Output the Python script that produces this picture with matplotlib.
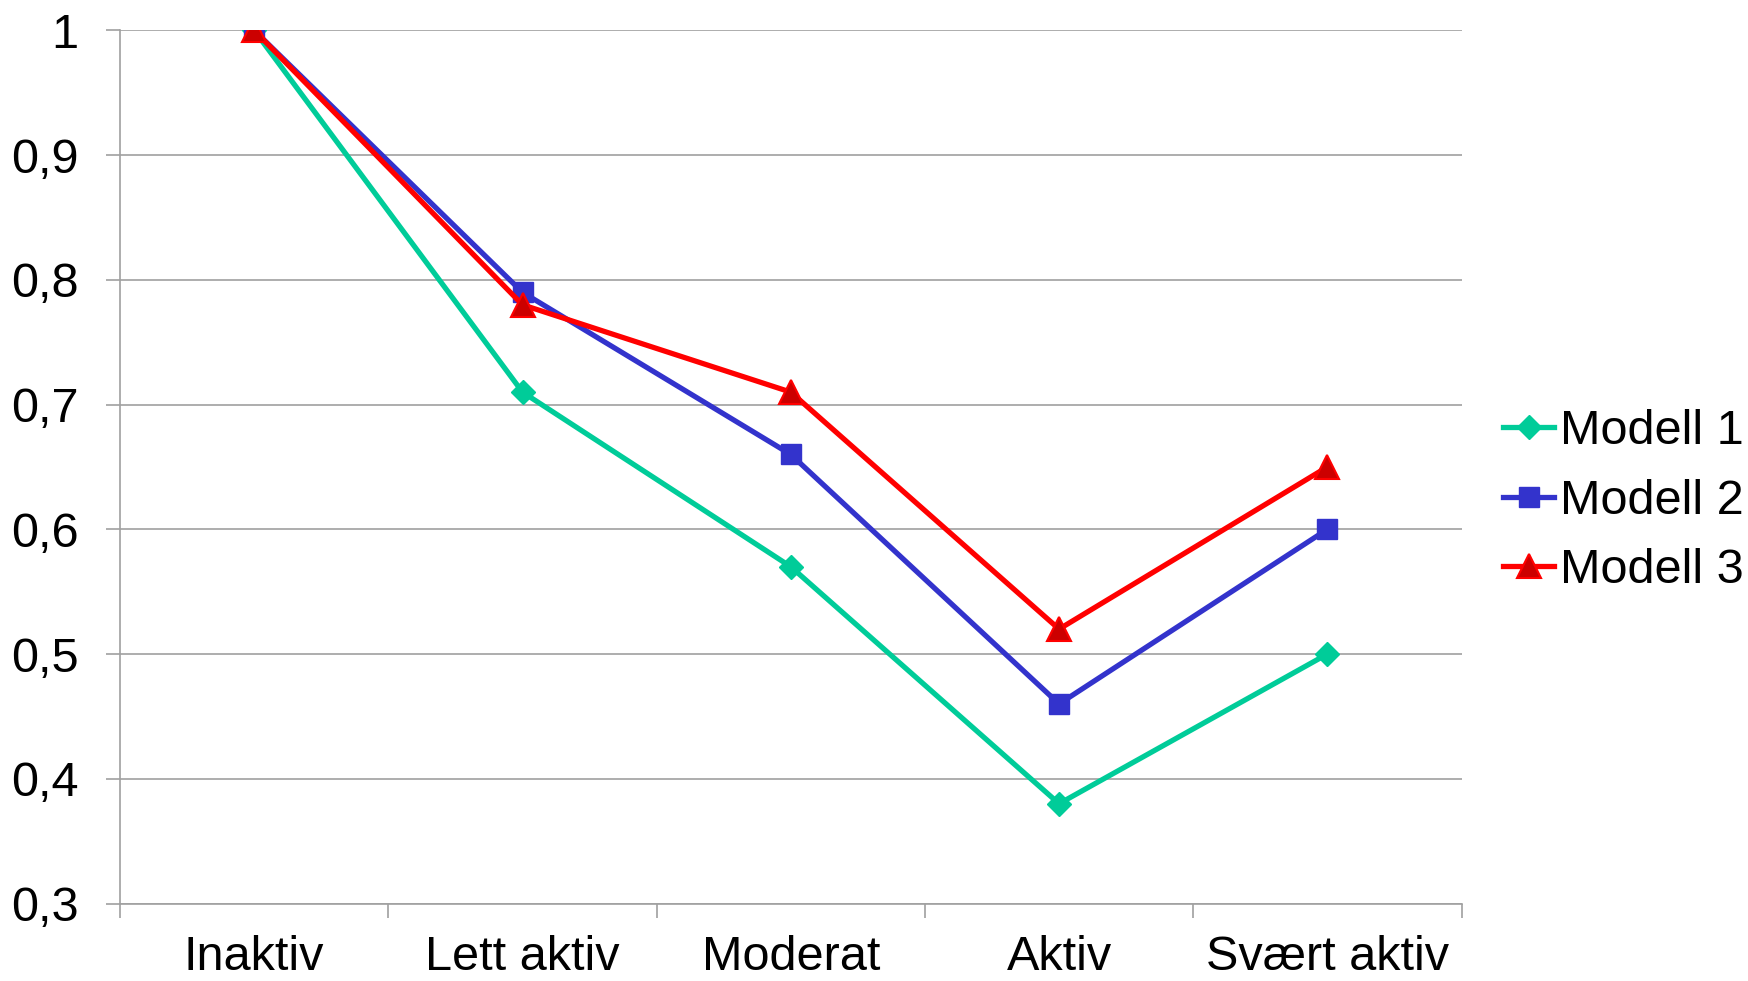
import matplotlib
matplotlib.use("Agg")
import matplotlib.pyplot as plt

plt.rcParams['font.family'] = ['Liberation Sans', 'DejaVu Sans']

categories = ["Inaktiv", "Lett aktiv", "Moderat", "Aktiv", "Svært aktiv"]
modell_1 = [1.00, 0.71, 0.57, 0.38, 0.50]
modell_2 = [1.00, 0.79, 0.66, 0.46, 0.60]
modell_3 = [1.00, 0.78, 0.71, 0.52, 0.65]
y_ticks = [0.3, 0.4, 0.5, 0.6, 0.7, 0.8, 0.9, 1.0]
y_labels = ["0,3", "0,4", "0,5", "0,6", "0,7", "0,8", "0,9", "1"]

grey = "#a0a0a0"
fs = 35

fig = plt.figure(figsize=(17.48, 9.81), dpi=100)
ax = fig.add_axes([0.0687, 0.079, 0.7674, 0.890])

x = list(range(len(categories)))
ax.plot(x, modell_1, color="#00cc99", lw=3.8, marker="D", ms=12,
        mfc="#00cc99", mec="#00cc99", label="Modell 1")
ax.plot(x, modell_2, color="#3333cc", lw=3.8, marker="s", ms=15,
        mfc="#3333cc", mec="#3333cc", label="Modell 2")
ax.plot(x, modell_3, color="#ff0000", lw=3.8, marker="^", ms=17,
        mfc="#cc0000", mec="#ff0000", mew=1.5, label="Modell 3")

ax.set_xlim(-0.5, len(categories) - 0.5)
ax.set_ylim(0.3, 1.0)
ax.set_yticks(y_ticks)
ax.set_yticklabels(y_labels)
ax.set_xticks(x)
ax.set_xticklabels(categories)
# category boundaries get the tick marks, labels sit centered
ax.set_xticks([i - 0.5 for i in range(len(categories) + 1)], minor=True)
ax.tick_params(axis="x", which="major", length=0, pad=23, labelsize=fs)
ax.tick_params(axis="x", which="minor", length=10, width=1.2, color=grey)
ax.tick_params(axis="y", length=10, width=1.2, color=grey, pad=20, labelsize=fs)

ax.grid(axis="y", color=grey, lw=1.2)
ax.set_axisbelow(True)
for side in ["top", "right"]:
    ax.spines[side].set_visible(False)
for side in ["left", "bottom"]:
    ax.spines[side].set_color(grey)
    ax.spines[side].set_linewidth(1.2)

ax.legend(loc="center left", bbox_to_anchor=(0.86, 0.489),
          bbox_transform=fig.transFigure, frameon=False,
          fontsize=fs, handlelength=1.05, handletextpad=0.12,
          labelspacing=0.5, borderaxespad=0, borderpad=0)

fig.savefig("out.png", dpi=100)
